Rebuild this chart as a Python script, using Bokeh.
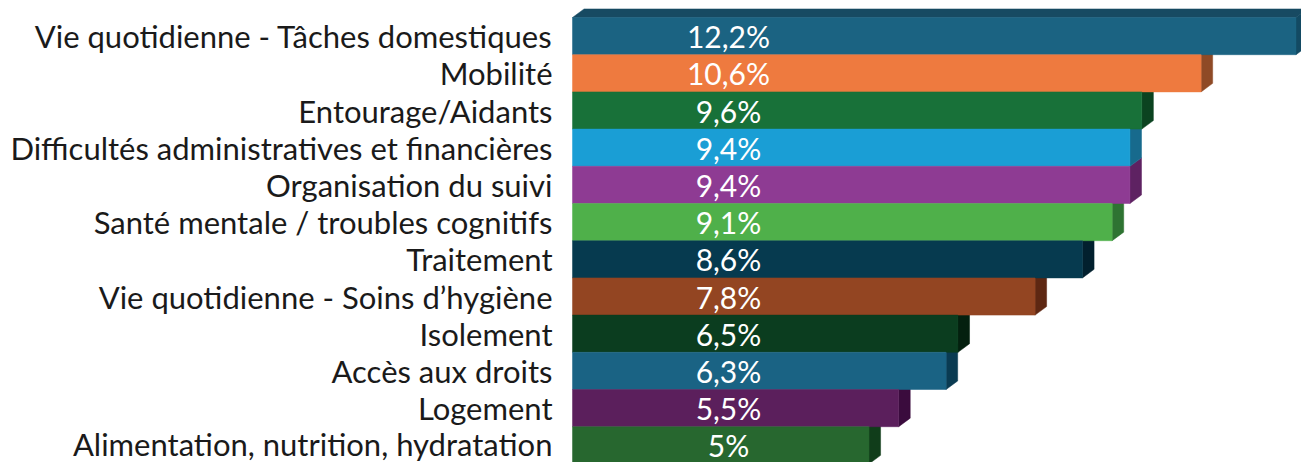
from bokeh.plotting import figure
from bokeh.models import Range1d, FixedTicker, ColumnDataSource
from bokeh.core.properties import value
from bokeh.embed import file_html
from bokeh.resources import INLINE

categories = [
    "Vie quotidienne - Tâches domestiques",
    "Mobilité",
    "Entourage/Aidants",
    "Difficultés administratives et financières",
    "Organisation du suivi",
    "Santé mentale / troubles cognitifs",
    "Traitement",
    "Vie quotidienne - Soins d’hygiène",
    "Isolement",
    "Accès aux droits",
    "Logement",
    "Alimentation, nutrition, hydratation",
]
values = [12.2, 10.6, 9.6, 9.4, 9.4, 9.1, 8.6, 7.8, 6.5, 6.3, 5.5, 5.0]
labels = ["12,2%", "10,6%", "9,6%", "9,4%", "9,4%", "9,1%", "8,6%", "7,8%", "6,5%", "6,3%", "5,5%", "5%"]
front_colors = ["#1B6382", "#EE7A3F", "#187139", "#1A9ED5", "#8E3B93", "#4FB04A",
                "#063A4F", "#934522", "#0B3D1F", "#1A6384", "#5B1F5C", "#27672F"]
side_colors = ["#134A63", "#8F4A26", "#0B4320", "#176A8D", "#5E2262", "#2E7332",
               "#02202E", "#5E2712", "#04200F", "#0A3B52", "#3A0B3D", "#103D1A"]
top_color = "#174A62"

FONT = "Lato"
DX = 0.195   # depth of the 3D effect, x data units
DY = 0.23    # depth of the 3D effect, row units
LABEL_X = 2.63

n = len(categories)
rows = list(range(n))

p = figure(width=1301, height=462, output_backend="svg", toolbar_location=None,
           x_range=Range1d(-0.017, 12.293), y_range=Range1d(11.462, -0.957),
           min_border_left=571, min_border_right=0, min_border_top=0, min_border_bottom=0,
           x_axis_location=None)
p.xgrid.visible = False
p.ygrid.visible = False
p.outline_line_color = None
p.background_fill_color = "white"

# side faces and top face
xs, ys, cols = [], [], []
for i in reversed(rows):
    v = values[i]
    top, bot = i - 0.5, i + 0.5
    xs.append([v, v + DX, v + DX, v])
    ys.append([top, top - DY, bot - DY, bot])
    cols.append(side_colors[i])
v0 = values[0]
xs.append([0, v0, v0 + DX, DX])
ys.append([-0.5, -0.5, -0.5 - DY, -0.5 - DY])
cols.append(top_color)
p.patches(xs, ys, fill_color=cols, line_color=cols, line_width=0.5)

src = ColumnDataSource(dict(y=rows, right=values, color=front_colors, label=labels,
                            lx=[LABEL_X] * n))
p.hbar(y="y", left=0, right="right", height=1.0, fill_color="color", line_color="color",
       line_width=0.5, source=src)

p.text(x="lx", y="y", text="label", source=src, text_color="white",
       text_font=value(FONT), text_font_size="30px", text_align="center",
       text_baseline="middle", y_offset=0)

ax = p.yaxis[0]
ax.ticker = FixedTicker(ticks=rows)
ax.major_label_overrides = {i: c for i, c in enumerate(categories)}
ax.major_label_text_font = FONT
ax.major_label_text_font_size = "31px"
ax.major_label_text_color = "#1A1A1A"
ax.major_label_standoff = 19
ax.major_tick_line_color = None
ax.minor_tick_line_color = None
ax.major_tick_out = 0
ax.major_tick_in = 0
ax.axis_line_color = None

open("out.html", "w").write(file_html(p, INLINE))
